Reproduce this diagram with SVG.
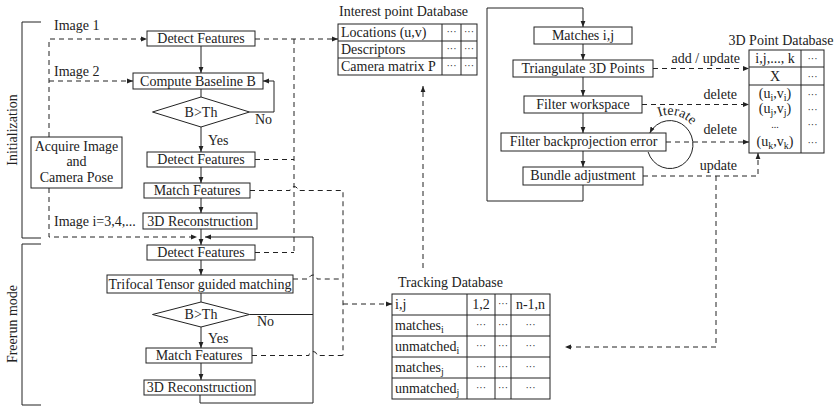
<svg xmlns="http://www.w3.org/2000/svg" width="838" height="408" viewBox="0 0 838 408">
<defs>
<style>
.t{font-family:"Liberation Serif","Times New Roman",serif;font-size:14px;fill:#222}
.m{text-anchor:middle}
.e{text-anchor:end}
.dt{font-family:"Liberation Serif",serif;font-size:10px;fill:#222;text-anchor:middle}
.b{fill:#fff;stroke:#222;stroke-width:1}
.s{fill:none;stroke:#222;stroke-width:1}
.d{fill:none;stroke:#222;stroke-width:1;stroke-dasharray:5,4}
</style>
<marker id="ah" viewBox="0 0 6 6" refX="6" refY="3" markerWidth="6" markerHeight="6" markerUnits="userSpaceOnUse" orient="auto"><path d="M0,0.6 L6,3 L0,5.4 z" fill="#222"/></marker>
</defs>
<rect width="838" height="408" fill="#fff"/>

<g id="brackets">
<path class="s" d="M41 22 H22 V238 H41"/>
<path class="s" d="M41 244 H22 V405 H41"/>
<text class="t m" transform="translate(17,130) rotate(-90)">Initialization</text>
<text class="t m" transform="translate(17,324) rotate(-90)">Freerun mode</text>
</g>

<g id="connectors">
<path class="s" marker-end="url(#ah)" d="M201 46 V73"/>
<path class="s" d="M201 89 V97"/>
<path class="s" marker-end="url(#ah)" d="M201 127 V152"/>
<path class="s" marker-end="url(#ah)" d="M201 167 V183"/>
<path class="s" marker-end="url(#ah)" d="M201 198 V213"/>
<path class="s" marker-end="url(#ah)" d="M201 229 V245"/>
<path class="s" marker-end="url(#ah)" d="M201 260 V275"/>
<path class="s" d="M201 293 V302"/>
<path class="s" marker-end="url(#ah)" d="M201 327 V348"/>
<path class="s" marker-end="url(#ah)" d="M201 363 V380"/>
<path class="s" marker-end="url(#ah)" d="M200 395 V403 H313 V237 H205"/>
<path class="s" d="M249.5 314.5 H313"/>
<path class="s" marker-end="url(#ah)" d="M249.5 112 H274 V81 H263"/>
<path class="d" marker-end="url(#ah)" d="M49 137 V39 H147"/>
<path class="d" marker-end="url(#ah)" d="M49 81 H133"/>
<path class="d" marker-end="url(#ah)" d="M49 188 V237 H197"/>
<path class="d" marker-end="url(#ah)" d="M255 39 H338"/>
<path class="d" d="M294 39 V252.5"/>
<path class="d" d="M255 159.5 H294"/>
<path class="d" d="M255 252.5 H294"/>
<path class="d" d="M250 190.5 H290 a4 4 0 0 1 8 0 H343 V355.5"/>
<path class="d" d="M293 279 H309 a4 4 0 0 1 8 0 H343"/>
<path class="d" d="M252 355.5 H309 a4 4 0 0 1 8 0 H343"/>
<path class="d" marker-end="url(#ah)" d="M343 304 H392"/>
<path class="d" marker-end="url(#ah)" d="M423 268 V86"/>
<path class="s" marker-end="url(#ah)" d="M583 185 V201 H487 V8 H583 V27"/>
<path class="s" marker-end="url(#ah)" d="M583 44 V60"/>
<path class="s" marker-end="url(#ah)" d="M583 77 V96"/>
<path class="s" marker-end="url(#ah)" d="M583 113 V133"/>
<path class="s" marker-end="url(#ah)" d="M583 151 V167"/>
<path class="s" marker-end="url(#ah)" d="M648.1 152 A23 24 0 1 0 649.8 133"/>
<path class="d" marker-end="url(#ah)" d="M653 68.5 H749"/>
<path class="d" marker-end="url(#ah)" d="M642 104.5 H749"/>
<path class="d" marker-end="url(#ah)" d="M666 142 H749"/>
<path class="d" marker-end="url(#ah)" d="M643 176 H758 V153"/>
<path class="d" marker-end="url(#ah)" d="M716 176 V347 H565"/>
<text class="t" x="54" y="30">Image 1</text>
<text class="t" x="54" y="76">Image 2</text>
<text class="t" x="54" y="226">Image i=3,4,...</text>
<text class="t" x="208" y="145">Yes</text>
<text class="t" x="255" y="124">No</text>
<text class="t" x="208" y="343">Yes</text>
<text class="t" x="257" y="326">No</text>
<text class="t e" x="740" y="63">add / update</text>
<text class="t e" x="737" y="99">delete</text>
<text class="t e" x="737" y="134">delete</text>
<text class="t e" x="737" y="170">update</text>
<path id="itp" fill="none" d="M659 116.8 A29 29 0 0 1 697.3 135.5"/>
<text class="t"><textPath href="#itp">Iterate</textPath></text>
</g>

<g id="n-acquire">
<rect class="b" x="31" y="137" width="91" height="51"/>
<text class="t m" x="76.5" y="151">Acquire Image</text>
<text class="t m" x="76.5" y="166">and</text>
<text class="t m" x="76.5" y="182">Camera Pose</text>
</g>
<g id="n-detect1"><rect class="b" x="147" y="31" width="108" height="15"/><text class="t m" x="201" y="43">Detect Features</text></g>
<g id="n-baseline"><rect class="b" x="133" y="73" width="130" height="16"/><text class="t m" x="198" y="86">Compute Baseline B</text></g>
<g id="n-dec1"><polygon class="b" points="152.5,112 201,97 249.5,112 201,127"/><text class="t m" x="201" y="117">B&gt;Th</text></g>
<g id="n-detect2"><rect class="b" x="147" y="152" width="108" height="15"/><text class="t m" x="201" y="164">Detect Features</text></g>
<g id="n-match1"><rect class="b" x="144" y="183" width="106" height="15"/><text class="t m" x="197" y="195">Match Features</text></g>
<g id="n-recon1"><rect class="b" x="143" y="213" width="114" height="16"/><text class="t m" x="200" y="226">3D Reconstruction</text></g>
<g id="n-detect3"><rect class="b" x="147" y="245" width="108" height="15"/><text class="t m" x="201" y="257">Detect Features</text></g>
<g id="n-trifocal"><rect class="b" x="107" y="275" width="186" height="18"/><text class="t m" x="200" y="289">Trifocal Tensor guided matching</text></g>
<g id="n-dec2"><polygon class="b" points="152.5,314.5 201,302 249.5,314.5 201,327"/><text class="t m" x="201" y="319">B&gt;Th</text></g>
<g id="n-match2"><rect class="b" x="146" y="348" width="106" height="15"/><text class="t m" x="199" y="360">Match Features</text></g>
<g id="n-recon2"><rect class="b" x="144" y="380" width="111" height="15"/><text class="t m" x="199.5" y="392">3D Reconstruction</text></g>

<g id="n-matches"><rect class="b" x="534" y="27" width="98" height="17"/><text class="t m" x="583" y="40">Matches i,j</text></g>
<g id="n-triangulate"><rect class="b" x="513" y="60" width="140" height="17"/><text class="t m" x="583" y="73">Triangulate 3D Points</text></g>
<g id="n-workspace"><rect class="b" x="524" y="96" width="118" height="17"/><text class="t m" x="583" y="109">Filter workspace</text></g>
<g id="n-backproj"><rect class="b" x="501" y="133" width="165" height="18"/><text class="t m" x="583.5" y="146">Filter backprojection error</text></g>
<g id="n-bundle"><rect class="b" x="523" y="167" width="120" height="18"/><text class="t m" x="583" y="180">Bundle adjustment</text></g>

<g id="db-interest">
<text class="t" x="339" y="16">Interest point Database</text>
<rect class="b" x="338" y="24" width="139" height="51"/>
<path class="s" d="M338 41 H477 M338 58 H477 M442 24 V75 M461 24 V75"/>
<text class="t" x="341" y="37">Locations (u,v)</text>
<text class="t" x="341" y="54">Descriptors</text>
<text class="t" x="341" y="71">Camera matrix P</text>
<text class="dt" x="451.5" y="35">···</text><text class="dt" x="469" y="35">···</text>
<text class="dt" x="451.5" y="52">···</text><text class="dt" x="469" y="52">···</text>
<text class="dt" x="451.5" y="69">···</text><text class="dt" x="469" y="69">···</text>
</g>

<g id="db-3d">
<text class="t m" x="781" y="45">3D Point Database</text>
<rect class="b" x="749" y="50" width="75" height="103"/>
<path class="s" d="M749 67 H824 M749 85 H824 M801 50 V153"/>
<text class="t m" x="775" y="63">i,j,..., k</text>
<text class="t m" x="775" y="81">X</text>
<text class="t m" x="775" y="98"><tspan>(u</tspan><tspan dy="3" font-size="10">i</tspan><tspan dy="-3">,v</tspan><tspan dy="3" font-size="10">i</tspan><tspan dy="-3">)</tspan></text>
<text class="t m" x="775" y="113"><tspan>(u</tspan><tspan dy="3" font-size="10">j</tspan><tspan dy="-3">,v</tspan><tspan dy="3" font-size="10">j</tspan><tspan dy="-3">)</tspan></text>
<text class="dt" x="775" y="128">...</text>
<text class="t m" x="775" y="146"><tspan>(u</tspan><tspan dy="3" font-size="10">k</tspan><tspan dy="-3">,v</tspan><tspan dy="3" font-size="10">k</tspan><tspan dy="-3">)</tspan></text>
<text class="dt" x="812.5" y="62">···</text>
<text class="dt" x="812.5" y="80">···</text>
<text class="dt" x="812.5" y="98">···</text>
<text class="dt" x="812.5" y="113">···</text>
<text class="dt" x="812.5" y="128">···</text>
<text class="dt" x="812.5" y="146">···</text>
</g>

<g id="db-tracking">
<text class="t" x="398" y="287">Tracking Database</text>
<rect class="b" x="392" y="294" width="158" height="105"/>
<path class="s" d="M392 315 H550 M392 336 H550 M392 357 H550 M392 378 H550 M467 294 V399 M495 294 V399 M511 294 V399"/>
<text class="t" x="395" y="309">i,j</text>
<text class="t m" x="481" y="309">1,2</text>
<text class="dt" x="503" y="307">···</text>
<text class="t m" x="530.5" y="309">n-1,n</text>
<text class="t" x="395" y="330">matches<tspan dy="3" font-size="10">i</tspan></text>
<text class="t" x="395" y="351">unmatched<tspan dy="3" font-size="10">i</tspan></text>
<text class="t" x="395" y="372">matches<tspan dy="3" font-size="10">j</tspan></text>
<text class="t" x="395" y="393">unmatched<tspan dy="3" font-size="10">j</tspan></text>
<text class="dt" x="481" y="328">···</text><text class="dt" x="503" y="328">···</text><text class="dt" x="530.5" y="328">···</text>
<text class="dt" x="481" y="349">···</text><text class="dt" x="503" y="349">···</text><text class="dt" x="530.5" y="349">···</text>
<text class="dt" x="481" y="370">···</text><text class="dt" x="503" y="370">···</text><text class="dt" x="530.5" y="370">···</text>
<text class="dt" x="481" y="391">···</text><text class="dt" x="503" y="391">···</text><text class="dt" x="530.5" y="391">···</text>
</g>
</svg>
